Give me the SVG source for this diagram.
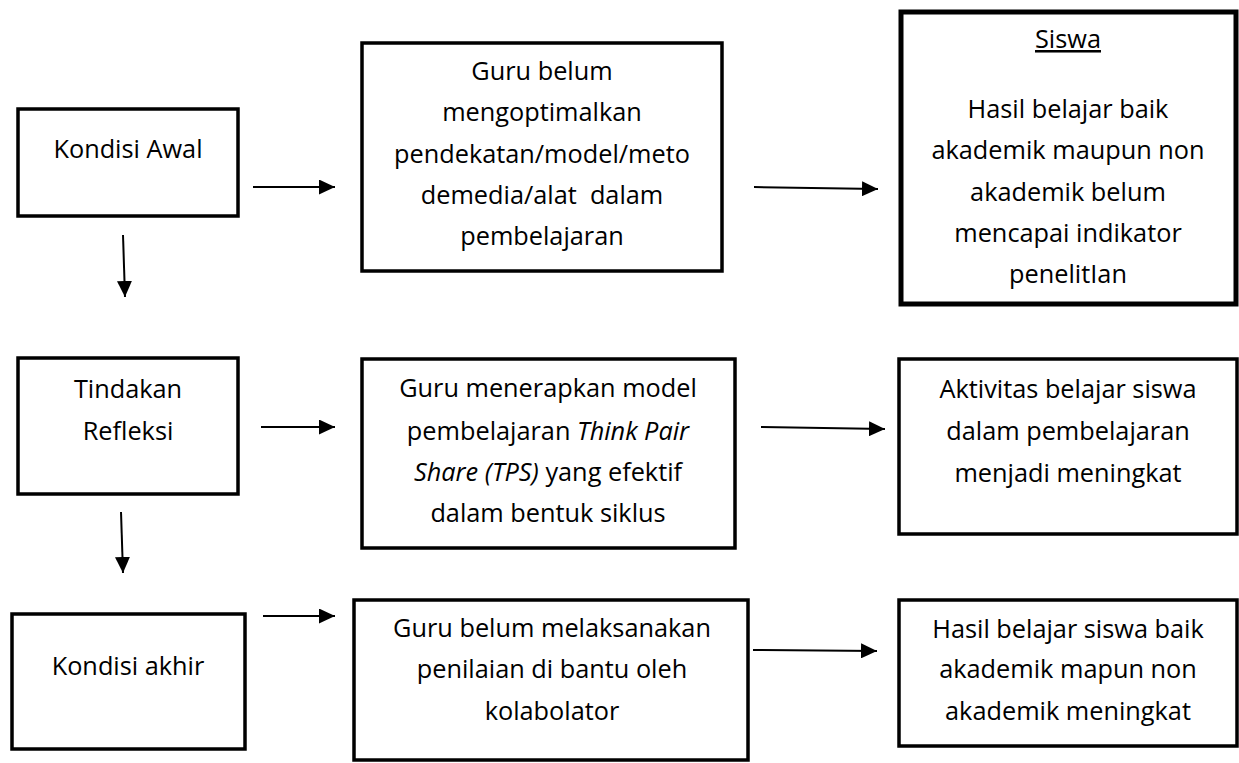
<svg xmlns="http://www.w3.org/2000/svg" width="1239" height="763" viewBox="0 0 1239 763">
<style>
.box{fill:#fff;stroke:#000;stroke-width:3.5;stroke-linejoin:miter}
.thick{stroke-width:5}
.t{font-family:"Open Sans","Liberation Sans",sans-serif;font-size:25.3px;fill:#000;text-anchor:middle}
.i{font-style:italic}
.conn{stroke:#000;stroke-width:2;fill:none;marker-end:url(#ah)}
</style>
<defs>
<marker id="ah" markerUnits="userSpaceOnUse" markerWidth="17" markerHeight="15" refX="16" refY="7.5" orient="auto">
<path d="M0,0 L16,7.5 L0,15 Z" fill="#000"/>
</marker>
</defs>
<rect width="1239" height="763" fill="#fff"/>
<g id="connectors">
<line class="conn" x1="253" y1="187" x2="335" y2="187"/>
<line class="conn" x1="754" y1="187" x2="878" y2="189"/>
<line class="conn" x1="123" y1="235" x2="125" y2="297"/>
<line class="conn" x1="261" y1="427" x2="335" y2="427"/>
<line class="conn" x1="761" y1="427" x2="885" y2="429"/>
<line class="conn" x1="121" y1="512" x2="123" y2="573"/>
<line class="conn" x1="263" y1="616" x2="335" y2="616"/>
<line class="conn" x1="753" y1="650" x2="877" y2="651"/>
</g>
<g id="kondisi-awal">
<rect class="box" x="18" y="109" width="220" height="107"/>
<text class="t" x="128" y="158">Kondisi Awal</text>
</g>
<g id="guru-belum-optimal">
<rect class="box" x="362" y="43" width="360" height="228"/>
<text class="t" x="542" y="80">Guru belum</text>
<text class="t" x="542" y="121">mengoptimalkan</text>
<text class="t" x="542" y="163">pendekatan/model/meto</text>
<text class="t" x="542" y="204" xml:space="preserve">demedia/alat  dalam</text>
<text class="t" x="542" y="245">pembelajaran</text>
</g>
<g id="siswa-awal">
<rect class="box thick" x="901" y="12" width="335" height="292"/>
<text class="t" x="1068" y="48" text-decoration="underline">Siswa</text>
<text class="t" x="1068" y="118">Hasil belajar baik</text>
<text class="t" x="1068" y="159">akademik maupun non</text>
<text class="t" x="1068" y="201">akademik belum</text>
<text class="t" x="1068" y="242">mencapai indikator</text>
<text class="t" x="1068" y="283">penelitIan</text>
</g>
<g id="tindakan-refleksi">
<rect class="box" x="18" y="358" width="220" height="136"/>
<text class="t" x="128" y="398">Tindakan</text>
<text class="t" x="128" y="440">Refleksi</text>
</g>
<g id="guru-menerapkan">
<rect class="box" x="362" y="359" width="373" height="189"/>
<text class="t" x="548" y="397">Guru menerapkan model</text>
<text class="t" x="548" y="440">pembelajaran <tspan class="i">Think Pair</tspan></text>
<text class="t" x="548" y="481"><tspan class="i">Share (TPS)</tspan> yang efektif</text>
<text class="t" x="548" y="522">dalam bentuk siklus</text>
</g>
<g id="aktivitas">
<rect class="box" x="899" y="359" width="338" height="175"/>
<text class="t" x="1068" y="398">Aktivitas belajar siswa</text>
<text class="t" x="1068" y="440">dalam pembelajaran</text>
<text class="t" x="1068" y="482">menjadi meningkat</text>
</g>
<g id="kondisi-akhir">
<rect class="box" x="12" y="614" width="233" height="135"/>
<text class="t" x="128" y="675">Kondisi akhir</text>
</g>
<g id="guru-belum-melaksanakan">
<rect class="box" x="354" y="600" width="394" height="160"/>
<text class="t" x="552" y="637">Guru belum melaksanakan</text>
<text class="t" x="552" y="678">penilaian di bantu oleh</text>
<text class="t" x="552" y="720">kolabolator</text>
</g>
<g id="hasil-akhir">
<rect class="box" x="899" y="600" width="338" height="146"/>
<text class="t" x="1068" y="638">Hasil belajar siswa baik</text>
<text class="t" x="1068" y="678">akademik mapun non</text>
<text class="t" x="1068" y="720">akademik meningkat</text>
</g>
</svg>
